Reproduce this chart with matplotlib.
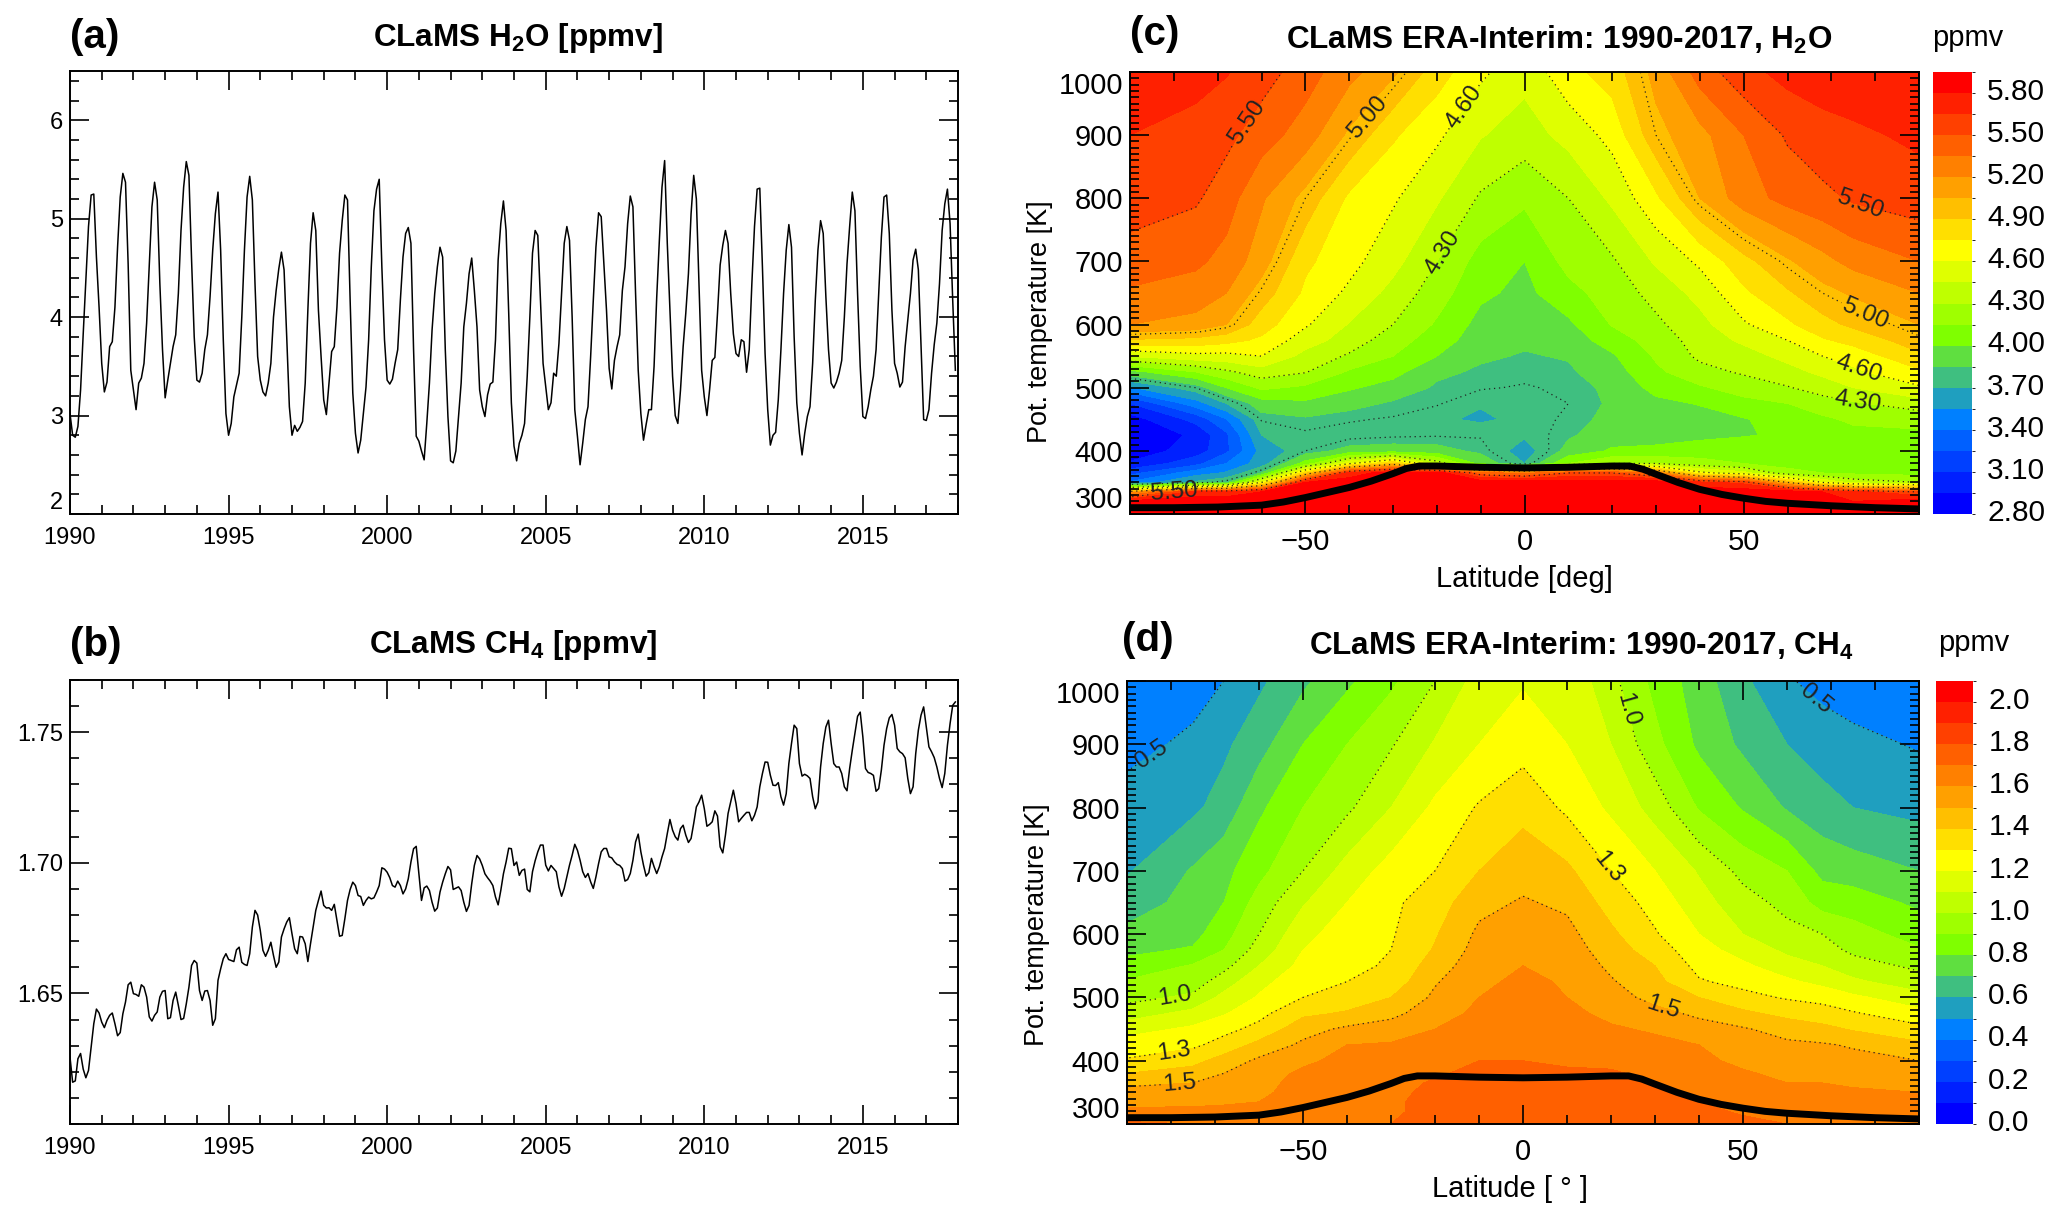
import numpy as np
import matplotlib
matplotlib.use('Agg')
import matplotlib.pyplot as plt
from matplotlib.colors import ListedColormap, BoundaryNorm

plt.rcParams['font.family'] = ['Liberation Sans', 'DejaVu Sans']
plt.rcParams['mathtext.fontset'] = 'custom'
plt.rcParams['mathtext.rm'] = 'Liberation Sans'
plt.rcParams['mathtext.bf'] = 'Liberation Sans:bold'

# monthly values, one row per year, Jan 1990 - Dec 2017
h2o_series = [
    3.02,2.80,2.78,2.89,3.26,3.83,4.37,4.92,5.24,5.25,4.61,4.10,
    3.53,3.24,3.34,3.70,3.75,4.10,4.71,5.22,5.46,5.37,4.54,3.46,
    3.26,3.06,3.33,3.38,3.53,3.94,4.54,5.12,5.37,5.19,4.34,3.67,
    3.18,3.36,3.53,3.70,3.82,4.24,4.88,5.32,5.58,5.44,4.58,3.80,
    3.36,3.34,3.43,3.67,3.82,4.21,4.68,5.05,5.27,4.68,3.77,3.02,
    2.80,2.92,3.19,3.31,3.43,4.00,4.68,5.22,5.43,5.19,4.34,3.60,
    3.36,3.24,3.20,3.33,3.53,4.00,4.27,4.49,4.66,4.48,3.80,3.09,
    2.80,2.90,2.84,2.88,2.94,3.33,4.07,4.75,5.06,4.88,4.07,3.60,
    3.16,3.01,3.33,3.65,3.70,4.10,4.65,4.98,5.24,5.19,4.17,3.23,
    2.82,2.62,2.75,3.02,3.29,3.77,4.51,5.08,5.30,5.40,4.51,3.77,
    3.36,3.32,3.37,3.53,3.67,4.17,4.61,4.85,4.91,4.75,3.67,2.79,
    2.74,2.64,2.55,2.92,3.33,3.87,4.24,4.51,4.71,4.61,3.67,2.99,
    2.54,2.52,2.64,2.99,3.33,3.90,4.14,4.44,4.60,4.27,3.90,3.26,
    3.09,2.99,3.21,3.32,3.34,3.77,4.58,4.95,5.18,4.88,4.04,3.13,
    2.69,2.54,2.72,2.80,2.92,3.40,4.00,4.65,4.88,4.83,4.17,3.53,
    3.29,3.06,3.13,3.43,3.40,3.73,4.24,4.75,4.92,4.78,4.00,3.06,
    2.79,2.50,2.72,2.96,3.09,3.60,4.17,4.71,5.06,5.02,4.54,4.07,
    3.48,3.27,3.56,3.70,3.82,4.27,4.51,4.95,5.23,5.12,4.24,3.46,
    3.02,2.75,2.91,3.06,3.06,3.50,4.20,4.78,5.32,5.59,4.75,4.07,
    3.40,3.00,2.92,3.26,3.70,4.04,4.44,5.05,5.44,5.20,4.34,3.46,
    3.19,3.00,3.26,3.56,3.59,4.04,4.53,4.73,4.88,4.75,4.24,3.83,
    3.63,3.60,3.77,3.75,3.44,3.67,4.34,4.92,5.30,5.31,4.51,3.63,
    3.06,2.70,2.80,2.83,3.16,3.67,4.24,4.68,4.94,4.71,3.80,3.13,
    2.82,2.60,2.82,2.99,3.09,3.53,4.17,4.68,4.98,4.85,4.21,3.67,
    3.33,3.28,3.34,3.43,3.56,4.00,4.54,4.92,5.27,5.08,4.24,3.50,
    2.99,2.97,3.09,3.26,3.40,3.67,4.24,4.81,5.22,5.24,4.85,4.07,
    3.53,3.43,3.29,3.34,3.70,3.97,4.24,4.58,4.69,4.48,3.73,2.96,
    2.95,3.06,3.43,3.72,3.94,4.34,4.88,5.15,5.30,4.95,4.17,3.46,
]
ch4_series = [
    1.6256,1.616,1.6165,1.625,1.627,1.621,1.6177,1.6205,1.6295,1.6384,1.644,1.6425,
    1.639,1.6369,1.6397,1.6416,1.6425,1.6384,1.6338,1.635,1.6422,1.6467,1.6533,1.6543,
    1.6499,1.6496,1.6489,1.6533,1.6524,1.6486,1.641,1.6394,1.6416,1.6429,1.6486,1.6508,
    1.6511,1.6403,1.6407,1.6473,1.6505,1.6454,1.64,1.6404,1.646,1.6524,1.6607,1.6626,
    1.6616,1.6511,1.6473,1.6509,1.6511,1.6473,1.6378,1.6403,1.655,1.6594,1.6633,1.6652,
    1.663,1.6626,1.6622,1.6667,1.6677,1.6619,1.6611,1.6607,1.6652,1.6754,1.6818,1.68,
    1.6741,1.6665,1.6642,1.6665,1.6696,1.6645,1.66,1.662,1.6716,1.6747,1.6773,1.679,
    1.6728,1.6671,1.6652,1.6718,1.6716,1.669,1.6622,1.669,1.6754,1.6818,1.6856,1.6892,
    1.6837,1.6827,1.6828,1.6818,1.6841,1.678,1.6719,1.6722,1.6786,1.6856,1.6898,1.6926,
    1.6913,1.6875,1.6871,1.6837,1.6856,1.6869,1.6862,1.6866,1.6888,1.6913,1.6981,1.6976,
    1.6964,1.6943,1.6913,1.6907,1.693,1.6913,1.6881,1.69,1.6939,1.7003,1.7054,1.7063,
    1.6958,1.6856,1.6904,1.6911,1.6894,1.6849,1.6815,1.6827,1.6888,1.6926,1.6958,1.6986,
    1.6973,1.6898,1.6903,1.6908,1.6894,1.6849,1.6814,1.6837,1.692,1.699,1.7028,1.7015,
    1.699,1.6958,1.6943,1.693,1.6913,1.6869,1.6839,1.6894,1.6958,1.7003,1.7056,1.7054,
    1.699,1.7003,1.6952,1.6971,1.6976,1.6898,1.6889,1.6966,1.7008,1.7042,1.7068,1.7068,
    1.6991,1.6969,1.699,1.6978,1.6966,1.6908,1.6872,1.6902,1.6946,1.6991,1.7029,1.7071,
    1.7048,1.701,1.6966,1.6944,1.6959,1.6927,1.6902,1.6946,1.6997,1.7042,1.7055,1.7055,
    1.7023,1.7019,1.7004,1.6994,1.699,1.6978,1.693,1.6936,1.6959,1.701,1.708,1.711,
    1.7042,1.6991,1.6949,1.6962,1.7017,1.6985,1.6959,1.6985,1.7023,1.7055,1.7112,1.7166,
    1.7125,1.71,1.7087,1.7131,1.7144,1.7106,1.7078,1.7093,1.7151,1.7214,1.7233,1.7259,
    1.7208,1.714,1.7147,1.7157,1.7199,1.7179,1.7061,1.7038,1.7106,1.7189,1.7233,1.7278,
    1.7227,1.7157,1.717,1.7182,1.7193,1.7193,1.7161,1.7182,1.7214,1.7291,1.7342,1.7386,
    1.7385,1.7335,1.7297,1.7296,1.7307,1.7253,1.7221,1.7265,1.738,1.7457,1.7527,1.7514,
    1.738,1.7332,1.7339,1.7333,1.7323,1.7253,1.7207,1.7233,1.7367,1.7457,1.752,1.7546,
    1.7457,1.738,1.7367,1.7367,1.7342,1.7291,1.7276,1.7361,1.7431,1.7495,1.7561,1.7577,
    1.7482,1.7361,1.7346,1.7342,1.7335,1.7274,1.7284,1.7355,1.745,1.7514,1.7555,1.7568,
    1.7527,1.7438,1.7425,1.7418,1.7402,1.7323,1.7265,1.7291,1.7418,1.7508,1.7565,1.7597,
    1.752,1.7444,1.7425,1.7403,1.7367,1.7323,1.7288,1.7342,1.745,1.7533,1.7603,1.7616,
]

# zonal mean grids: one row per latitude, columns follow theta_grid
lat_grid = [-90,-75,-68,-60,-50,-40,-30,-20,-10,0,10,20,30,40,50,60,68,75,90]
theta_grid = [300,320,335,350,365,380,400,425,450,475,500,525,550,575,600,650,700,800,900,1000]
h2o_field = [
    [5.9,5.85,5.1,3.42,3.2,2.97,2.86,2.82,2.88,3.1,3.53,3.95,4.46,4.88,5.2,5.33,5.43,5.58,5.65,5.78],
    [5.9,5.9,5.7,3.73,3.48,3.2,3.02,2.98,3.15,3.48,3.78,4.15,4.55,4.85,5.15,5.28,5.38,5.52,5.58,5.72],
    [5.9,5.9,5.7,3.83,3.57,3.4,3.22,3.22,3.39,3.7,4.0,4.27,4.55,4.8,5.05,5.2,5.3,5.42,5.54,5.66],
    [5.9,5.9,5.8,4.6,3.85,3.63,3.6,3.7,3.79,3.93,4.18,4.38,4.6,4.72,4.82,4.98,5.12,5.22,5.42,5.57],
    [5.9,5.9,5.9,5.8,4.85,4.06,3.78,3.76,3.83,3.97,4.12,4.31,4.4,4.52,4.62,4.72,4.78,5.0,5.28,5.42],
    [5.9,5.9,5.9,5.9,5.7,4.58,3.9,3.74,3.79,3.9,4.02,4.13,4.28,4.38,4.44,4.57,4.65,4.72,5.02,5.25],
    [5.9,5.9,5.9,5.9,5.9,4.9,3.92,3.76,3.77,3.83,3.94,4.05,4.15,4.22,4.3,4.4,4.5,4.62,4.77,5.08],
    [5.9,5.9,5.9,5.9,5.9,4.4,3.9,3.77,3.72,3.79,3.83,3.88,4.0,4.07,4.13,4.22,4.3,4.47,4.63,4.82],
    [5.9,5.9,5.9,5.9,5.4,3.95,3.82,3.77,3.68,3.71,3.79,3.83,3.87,3.92,3.95,4.03,4.09,4.28,4.46,4.63],
    [5.9,5.9,5.9,5.9,5.3,3.7,3.63,3.72,3.73,3.73,3.77,3.81,3.84,3.87,3.91,3.96,4.0,4.18,4.38,4.5],
    [5.9,5.9,5.9,5.9,5.5,4.15,3.9,3.83,3.8,3.78,3.8,3.83,3.86,3.92,3.97,4.1,4.2,4.3,4.5,4.7],
    [5.9,5.9,5.9,5.9,5.5,4.3,4.02,3.93,3.89,3.87,3.88,3.93,3.98,4.07,4.16,4.22,4.28,4.48,4.65,4.82],
    [5.9,5.9,5.9,5.9,5.3,4.3,4.03,3.95,3.93,3.96,4.05,4.12,4.17,4.22,4.27,4.35,4.47,4.72,5.0,5.1],
    [5.9,5.9,5.9,5.7,4.65,4.2,4.08,3.96,3.94,4.01,4.13,4.25,4.33,4.36,4.4,4.5,4.63,5.05,5.15,5.42],
    [5.9,5.9,5.9,5.6,4.5,4.15,4.08,3.99,3.99,4.1,4.22,4.32,4.38,4.48,4.58,4.72,4.85,5.28,5.35,5.6],
    [5.9,5.9,5.9,5.0,4.2,4.1,4.06,4.02,4.06,4.15,4.29,4.39,4.5,4.6,4.72,4.88,5.03,5.4,5.52,5.7],
    [5.9,5.9,5.8,4.6,4.15,4.08,4.07,4.06,4.12,4.24,4.36,4.49,4.6,4.73,4.85,5.0,5.15,5.46,5.6,5.72],
    [5.9,5.8,5.7,4.4,4.12,4.08,4.08,4.1,4.18,4.28,4.45,4.57,4.66,4.8,4.93,5.07,5.25,5.52,5.62,5.75],
    [5.9,5.9,5.5,4.3,4.1,4.08,4.1,4.12,4.2,4.38,4.58,4.72,4.87,4.98,5.05,5.2,5.35,5.58,5.68,5.78],
]
ch4_field = [
    [1.72,1.62,1.57,1.53,1.48,1.40,1.31,1.25,1.16,1.05,0.97,0.91,0.83,0.78,0.73,0.64,0.59,0.54,0.47,0.41],
    [1.70,1.62,1.58,1.54,1.50,1.44,1.37,1.28,1.22,1.13,1.02,0.95,0.91,0.81,0.77,0.74,0.71,0.58,0.52,0.46],
    [1.69,1.62,1.59,1.56,1.54,1.50,1.44,1.34,1.27,1.19,1.13,1.05,0.97,0.90,0.86,0.80,0.77,0.64,0.58,0.50],
    [1.68,1.62,1.60,1.58,1.57,1.55,1.52,1.43,1.33,1.27,1.21,1.17,1.10,1.04,1.00,0.94,0.87,0.78,0.66,0.58],
    [1.68,1.66,1.65,1.64,1.63,1.62,1.58,1.52,1.46,1.38,1.30,1.26,1.23,1.20,1.17,1.09,1.00,0.90,0.80,0.68],
    [1.69,1.68,1.67,1.66,1.65,1.64,1.63,1.60,1.52,1.41,1.35,1.30,1.28,1.27,1.25,1.20,1.14,0.98,0.90,0.78],
    [1.70,1.69,1.69,1.68,1.67,1.65,1.63,1.61,1.55,1.47,1.40,1.34,1.31,1.30,1.29,1.28,1.24,1.10,0.99,0.88],
    [1.72,1.72,1.72,1.72,1.71,1.69,1.66,1.63,1.60,1.56,1.52,1.49,1.45,1.41,1.39,1.35,1.30,1.22,1.11,1.00],
    [1.73,1.73,1.73,1.73,1.73,1.72,1.70,1.67,1.64,1.62,1.60,1.58,1.56,1.54,1.52,1.47,1.40,1.31,1.20,1.14],
    [1.75,1.74,1.74,1.74,1.73,1.72,1.70,1.68,1.66,1.64,1.63,1.62,1.60,1.58,1.56,1.51,1.46,1.37,1.26,1.19],
    [1.74,1.73,1.73,1.72,1.72,1.71,1.69,1.66,1.64,1.62,1.60,1.59,1.57,1.55,1.53,1.48,1.42,1.28,1.20,1.18],
    [1.74,1.73,1.73,1.72,1.72,1.71,1.68,1.64,1.61,1.58,1.54,1.51,1.48,1.45,1.42,1.36,1.30,1.18,1.10,1.03],
    [1.75,1.74,1.73,1.72,1.70,1.68,1.65,1.62,1.59,1.53,1.47,1.43,1.40,1.35,1.31,1.26,1.20,1.06,0.93,0.87],
    [1.74,1.72,1.70,1.68,1.66,1.64,1.62,1.60,1.54,1.48,1.40,1.31,1.27,1.24,1.20,1.14,1.09,0.89,0.78,0.75],
    [1.72,1.69,1.67,1.65,1.63,1.61,1.58,1.54,1.51,1.42,1.33,1.27,1.22,1.16,1.10,1.04,0.97,0.79,0.68,0.62],
    [1.70,1.67,1.64,1.62,1.60,1.58,1.55,1.52,1.46,1.37,1.29,1.22,1.14,1.08,1.03,0.97,0.90,0.69,0.60,0.51],
    [1.69,1.66,1.63,1.61,1.60,1.57,1.54,1.51,1.43,1.34,1.27,1.17,1.10,1.04,1.00,0.86,0.77,0.64,0.55,0.47],
    [1.68,1.65,1.63,1.61,1.59,1.56,1.53,1.49,1.39,1.31,1.22,1.12,1.04,0.98,0.94,0.85,0.75,0.60,0.53,0.44],
    [1.66,1.64,1.62,1.60,1.57,1.54,1.50,1.42,1.33,1.23,1.14,1.04,0.98,0.91,0.86,0.78,0.70,0.57,0.49,0.40],
]

# thermal tropopause
tropo_lat = [-90,-80,-70,-60,-55,-50,-45,-40,-35,-30,-27,-24,-20,-15,-10,0,10,15,20,24,27,30,35,40,45,50,55,60,70,80,90]
tropo_theta = [310,310,311,314,319,326,334,342,352,364,372,376,376,375,374,373,374,375,376,376,371,363,350,339,331,325,320,317,313,310,308]

band_colors = ['#0000ff','#0020ff','#0040ff','#0060ff','#0080ff','#1f9fbf','#3fbf80',
               '#5fdf40','#7fff00','#9fff00','#bfff00','#dfff00','#ffff00','#ffdf00',
               '#ffbf00','#ffa000','#ff8000','#ff6000','#ff4000','#ff2000','#ff0000']
h2o_levels = [2.8 + 0.15*i for i in range(22)]
ch4_levels = [0.1*i for i in range(22)]
h2o_lines = [3.78, 4.3, 4.6, 5.0, 5.5]
ch4_lines = [0.5, 1.0, 1.3, 1.5]
h2o_names = {3.78: '', 4.3: '4.30', 4.6: '4.60', 5.0: '5.00', 5.5: '5.50'}
ch4_names = {0.5: '0.5', 1.0: '1.0', 1.3: '1.3', 1.5: '1.5'}
h2o_label_pos = [(-64,925), (76,775), (-80,336), (-36,930), (76,590), (-15,950), (76,525), (-20,720), (76,478)]
ch4_label_pos = [(-83,870), (65,960), (21,950), (-79,495), (-79,400), (-78,355), (21,715), (33,510)]

W, H = 2067, 1219
fig = plt.figure(figsize=(W/100, H/100), dpi=100)


def add_axes_px(x0, y0, x1, y1):
    return fig.add_axes([x0/W, 1-y1/H, (x1-x0)/W, (y1-y0)/H])


def put(x, y, s, **kw):
    fig.text(x/W, 1-y/H, s, ha=kw.pop('ha', 'center'), va='center', **kw)


def style_ticks(ax, size):
    ax.tick_params(which='both', direction='in', top=True, right=True, width=1.2, labelsize=size)
    ax.tick_params(which='major', length=13.5)
    ax.tick_params(which='minor', length=6.5)
    for s in ax.spines.values():
        s.set_linewidth(1.4)


def series_panel(box, y, ylim, yticks, yminor, fmt):
    ax = add_axes_px(*box)
    x = 1990 + np.arange(len(y))/12
    ax.plot(x, y, color='k', lw=1.1)
    ax.set_xlim(1990, 2018)
    ax.set_ylim(*ylim)
    ax.set_xticks(np.arange(1990, 2016, 5))
    ax.set_xticks(np.arange(1990, 2019, 1), minor=True)
    ax.set_yticks(yticks)
    ax.set_yticks(yminor, minor=True)
    ax.set_yticklabels([fmt % v for v in yticks])
    style_ticks(ax, 17)
    ax.tick_params(axis='x', which='major', pad=9)
    ax.tick_params(axis='y', which='major', pad=5)
    return ax


def field_panel(box, cbox, field, levels, lines, names, label_pos, cticks, cfmt, xlabel, xlab_x, ylab_y, lift):
    ax = add_axes_px(*box)
    Z = np.array(field).T
    cmap = ListedColormap(band_colors)
    norm = BoundaryNorm(levels, cmap.N)
    cf = ax.contourf(lat_grid, theta_grid, Z, levels=levels, cmap=cmap, norm=norm)
    cs = ax.contour(lat_grid, theta_grid, Z, levels=lines, colors='#222222',
                    linewidths=0.9, linestyles=[(0, (1, 3))])
    ax.set_xlim(-90, 90)
    ax.set_ylim(300, 1000)
    ax.clabel(cs, fmt=names, fontsize=17.5, manual=label_pos, inline=True, inline_spacing=2)
    ax.plot(tropo_lat, tropo_theta, color='k', lw=5, solid_capstyle='butt')
    ax.set_xticks([-50, 0, 50])
    ax.set_xticks(np.arange(-90, 91, 10), minor=True)
    ax.set_yticks(np.arange(300, 1001, 100))
    ax.set_yticks(np.arange(300, 1001, 10), minor=True)
    style_ticks(ax, 21)
    ax.tick_params(axis='x', which='major', pad=10)
    ax.tick_params(axis='y', which='major', pad=5)
    ax.set_xlabel(xlabel, fontsize=21)
    ax.xaxis.set_label_coords(xlab_x, -0.115)
    ax.set_ylabel('Pot. temperature [K]', fontsize=19.5)
    ax.yaxis.set_label_coords(-0.097, ylab_y)
    ylabs = ax.get_yticklabels()
    ylabs[0].set_va('bottom')
    ylabs[-1].set_va('top')

    cax = add_axes_px(*cbox)
    cb = fig.colorbar(cf, cax=cax, spacing='proportional', drawedges=False)
    cb.set_ticks([v + lift for v in cticks], labels=[cfmt % v for v in cticks])
    cb.ax.tick_params(length=0, labelsize=21.5, pad=11)
    cb.outline.set_visible(False)
    return ax


ax_a = series_panel((70, 71, 958, 514), h2o_series, (2, 6.5), [2, 3, 4, 5, 6],
                    np.arange(2, 6.51, 0.2), '%d')
ax_a.get_yticklabels()[0].set_va('bottom')
series_panel((70, 680, 958, 1124), ch4_series, (1.60, 1.77), [1.65, 1.70, 1.75],
             np.arange(1.60, 1.771, 0.01), '%.2f')

field_panel((1130, 72, 1919, 514), (1933, 72, 1972, 514), h2o_field, h2o_levels, h2o_lines,
            h2o_names, h2o_label_pos, [2.8 + 0.3*i for i in range(11)], '%.2f',
            'Latitude [deg]', 0.5, 0.436, 0.03)
field_panel((1127, 681, 1919, 1124), (1936, 681, 1973, 1124), ch4_field, ch4_levels, ch4_lines,
            ch4_names, ch4_label_pos, [0.2*i for i in range(11)], '%.1f',
            'Latitude [ ° ]', 0.483, 0.45, 0.02)

put(518, 38, 'CLaMS H$_{\\mathbf{2}}$O [ppmv]', fontsize=22.7, fontweight='bold')
put(513, 645, 'CLaMS CH$_{\\mathbf{4}}$ [ppmv]', fontsize=22.7, fontweight='bold')
put(1559, 40, 'CLaMS ERA-Interim: 1990-2017, H$_{\\mathbf{2}}$O', fontsize=22.7, fontweight='bold')
put(1581, 646, 'CLaMS ERA-Interim: 1990-2017, CH$_{\\mathbf{4}}$', fontsize=22.7, fontweight='bold')
put(70, 37, '(a)', fontsize=29, fontweight='bold', ha='left')
put(70, 645, '(b)', fontsize=29, fontweight='bold', ha='left')
put(1130, 34, '(c)', fontsize=29, fontweight='bold', ha='left')
put(1122, 640, '(d)', fontsize=29, fontweight='bold', ha='left')
put(1968, 38, 'ppmv', fontsize=21)
put(1974, 643, 'ppmv', fontsize=21)

fig.savefig('out.png', dpi=100)
